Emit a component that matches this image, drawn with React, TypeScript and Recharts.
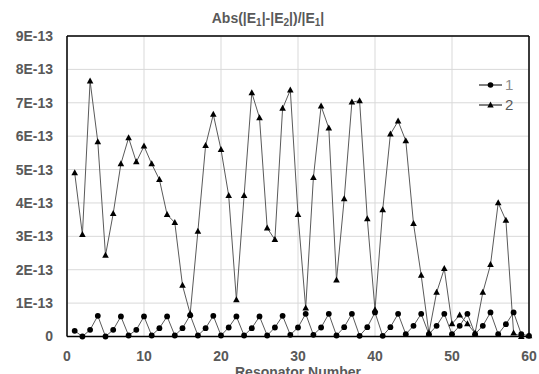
import React from 'react';
import { LineChart, Line, XAxis, YAxis, CartesianGrid, Legend, ReferenceLine } from 'recharts';

// Resonator numbers (categories)
const resonators = [
  1, 2, 3, 4, 5, 6, 7, 8, 9, 10,
  11, 12, 13, 14, 15, 16, 17, 18, 19, 20,
  21, 22, 23, 24, 25, 26, 27, 28, 29, 30,
  31, 32, 33, 34, 35, 36, 37, 38, 39, 40,
  41, 42, 43, 44, 45, 46, 47, 48, 49, 50,
  51, 52, 53, 54, 55, 56, 57, 58, 59, 60,
];

// Values in units of 1E-13
const series1 = [
  0.17, 0.0, 0.2, 0.62, 0.0, 0.2, 0.6, 0.03, 0.2, 0.6,
  0.03, 0.25, 0.6, 0.03, 0.25, 0.64, 0.03, 0.25, 0.62, 0.03,
  0.27, 0.6, 0.03, 0.25, 0.6, 0.03, 0.27, 0.62, 0.05, 0.27,
  0.68, 0.05, 0.27, 0.68, 0.03, 0.28, 0.68, 0.02, 0.28, 0.72,
  0.02, 0.28, 0.68, 0.07, 0.32, 0.68, 0.07, 0.32, 0.68, 0.07,
  0.32, 0.68, 0.07, 0.32, 0.72, 0.07, 0.37, 0.72, 0.07, 0.02,
];

const series2 = [
  4.9, 3.05, 7.65, 5.83, 2.43, 3.68, 5.17, 5.95, 5.23, 5.7,
  5.17, 4.7, 3.65, 3.41, 1.53, 0.68, 3.15, 5.72, 6.65, 5.6,
  4.22, 1.1, 4.22, 7.3, 6.55, 3.25, 2.9, 6.83, 7.38, 3.65,
  0.85, 4.76, 6.9, 6.24, 1.69, 4.12, 7.02, 7.06, 3.52, 0.8,
  3.79, 6.06, 6.45, 5.86, 3.38, 1.83, 0.1, 1.32, 2.03, 0.38,
  0.64, 0.38, 0.1, 1.32, 2.15, 4.0, 3.48, 0.1, 0.0, 0.02,
];

const xTicks = [0, 10, 20, 30, 40, 50, 60];
const yTicks = [0, 1, 2, 3, 4, 5, 6, 7, 8, 9];
const yTickLabels = ['0', '1E-13', '2E-13', '3E-13', '4E-13', '5E-13', '6E-13', '7E-13', '8E-13', '9E-13'];
const seriesNames = ['1', '2'];

const data = resonators.map((r, i) => ({ r, s1: series1[i], s2: series2[i] }));

const FONT = "'Liberation Sans', Arial, sans-serif";
const TEXT_GRAY = '#595959';

const CircleDot = (props: any) => {
  const { cx, cy, index } = props;
  if (cx == null || cy == null) return <g key={`c${index}`} />;
  return <circle key={`c${index}`} cx={cx} cy={cy} r={2.9} fill="#000" stroke="none" />;
};

const TriangleDot = (props: any) => {
  const { cx, cy, index } = props;
  if (cx == null || cy == null) return <g key={`t${index}`} />;
  const pts = `${cx},${cy - 3.6} ${cx - 3.3},${cy + 2.4} ${cx + 3.3},${cy + 2.4}`;
  return <polygon key={`t${index}`} points={pts} fill="#000" stroke="none" />;
};

const LegendContent = () => (
  <div style={{ fontFamily: FONT }}>
    {seriesNames.map((name, i) => (
      <div key={name} style={{ display: 'flex', alignItems: 'center', height: 20 }}>
        <svg width={24} height={10} style={{ display: 'block' }}>
          <line x1={0} y1={5} x2={23} y2={5} stroke="#000" strokeWidth={1} />
          {i === 0 ? (
            <circle cx={11.5} cy={5} r={2.8} fill="#000" />
          ) : (
            <polygon points="11.5,1.6 8.3,7.4 14.7,7.4" fill="#000" />
          )}
        </svg>
        <span style={{ fontSize: 15, color: i === 0 ? '#8c8c8c' : TEXT_GRAY, marginLeft: 2, lineHeight: '20px' }}>{name}</span>
      </div>
    ))}
  </div>
);

export default function App() {
  return (
    <div style={{ position: 'absolute', left: 0, top: 0, width: 539, height: 374, background: '#fff' }}>
      <LineChart
        width={539}
        height={374}
        data={data}
        margin={{ top: 36, right: 10, left: 0, bottom: 0 }}
      >
        <CartesianGrid stroke="#d9d9d9" strokeWidth={1} />
        <XAxis
          dataKey="r"
          type="number"
          domain={[0, 60]}
          ticks={xTicks}
          height={37.5}
          axisLine={{ stroke: '#000', strokeWidth: 1.5 }}
          tickLine={false}
          tickSize={6}
          tickMargin={9}
          tick={{ fill: TEXT_GRAY, fontSize: 14, fontWeight: 'bold', fontFamily: FONT }}
          label={{
            value: 'Resonator Number',
            position: 'insideBottom',
            offset: -3,
            fill: TEXT_GRAY,
            fontSize: 14,
            fontWeight: 'bold',
            fontFamily: FONT,
          }}
        />
        <YAxis
          type="number"
          domain={[0, 9]}
          ticks={yTicks}
          width={67}
          axisLine={{ stroke: '#000', strokeWidth: 1.5 }}
          tickLine={false}
          tickSize={6}
          tickMargin={8}
          interval={0}
          tickFormatter={(v: number) => yTickLabels[yTicks.indexOf(v)] ?? String(v)}
          tick={{ fill: TEXT_GRAY, fontSize: 14, fontWeight: 'bold', fontFamily: FONT }}
        />
        <ReferenceLine x={60} stroke="#000" strokeWidth={1.5} ifOverflow="visible" />
        <ReferenceLine y={9} stroke="#000" strokeWidth={1.5} ifOverflow="visible" />
        <Line
          type="linear"
          dataKey="s2"
          name={seriesNames[1]}
          stroke="#5a5a5a"
          strokeWidth={1}
          dot={TriangleDot}
          activeDot={false}
          isAnimationActive={false}
        />
        <Line
          type="linear"
          dataKey="s1"
          name={seriesNames[0]}
          stroke="#5a5a5a"
          strokeWidth={1}
          dot={CircleDot}
          activeDot={false}
          isAnimationActive={false}
        />
        <Legend
          layout="vertical"
          align="center"
          verticalAlign="middle"
          content={LegendContent}
          wrapperStyle={{ position: 'absolute', left: 479, top: 75, width: 40, height: 40 }}
        />
      </LineChart>
      <svg width={539} height={40} style={{ position: 'absolute', left: 0, top: 0, pointerEvents: 'none' }}>
        <text x={268} y={22.5} textAnchor="middle" fontFamily={FONT} fontWeight="bold" fontSize={14} fill={TEXT_GRAY}>
          Abs(|E<tspan fontSize={10} dy={3}>1</tspan>
          <tspan dy={-3}>|-|E</tspan>
          <tspan fontSize={10} dy={3}>2</tspan>
          <tspan dy={-3}>|)/|E</tspan>
          <tspan fontSize={10} dy={3}>1</tspan>
          <tspan dy={-3}>|</tspan>
        </text>
      </svg>
    </div>
  );
}
